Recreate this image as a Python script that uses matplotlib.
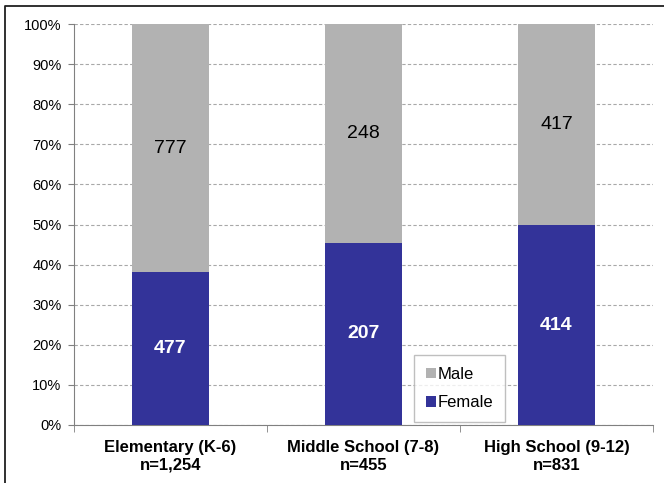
import numpy as np
import matplotlib.pyplot as plt
from matplotlib.lines import Line2D

plt.rcParams['font.family'] = ['Liberation Sans', 'DejaVu Sans']

# donnees
categories = ['Elementary (K-6)\nn=1,254', 'Middle School (7-8)\nn=455', 'High School (9-12)\nn=831']
female = np.array([477, 207, 414])
male = np.array([777, 248, 417])

total = female + male
female_pct = female / total * 100
male_pct = male / total * 100

col_female = '#333399'
col_male = '#B2B2B2'

fig = plt.figure(figsize=(6.64, 4.83), dpi=100)
ax = fig.add_axes([74 / 664, 1 - 425 / 483, 579 / 664, 401 / 483])

x = np.arange(len(categories))
ax.bar(x, female_pct, width=0.4, color=col_female, label='Female', zorder=3)
ax.bar(x, male_pct, width=0.4, bottom=female_pct, color=col_male, label='Male', zorder=3)

# etiquettes dans les barres
for i in range(len(x)):
    ax.text(x[i], female_pct[i] / 2, str(female[i]), ha='center', va='center',
            color='white', fontsize=14, fontweight='bold', zorder=4)
    ax.text(x[i], female_pct[i] + male_pct[i] / 2, str(male[i]), ha='center', va='center',
            color='black', fontsize=14, zorder=4)

ax.set_xlim(-0.5, 2.5)
ax.set_ylim(0, 100)
ax.set_yticks(np.arange(0, 101, 10))
ax.set_yticklabels([f'{v}%' for v in range(0, 101, 10)], fontsize=10.5)
ax.yaxis.grid(True, linestyle=(0, (3, 2)), color='#A8A8A8', linewidth=0.8, zorder=0)

ax.set_xticks(x)
ax.set_xticklabels(categories, fontsize=12, fontweight='bold', linespacing=1.2)
ax.tick_params(axis='x', length=0, pad=11)
ax.tick_params(axis='y', length=4, color='#808080', pad=5)
# petits traits entre les categories
ax.set_xticks([-0.5, 0.5, 1.5, 2.5], minor=True)
ax.tick_params(axis='x', which='minor', length=5, color='#808080')

for s in ['top', 'right']:
    ax.spines[s].set_visible(False)
for s in ['left', 'bottom']:
    ax.spines[s].set_color('#808080')

handles, labels = ax.get_legend_handles_labels()
leg = ax.legend(handles[::-1], labels[::-1], loc='lower left', bbox_to_anchor=(0.587, 0.008),
                fontsize=12, frameon=True, fancybox=False, edgecolor='#B0B0B0',
                handlelength=0.6, handleheight=0.6, handletextpad=0.15, labelspacing=0.8,
                borderpad=0.7, borderaxespad=0)
leg.get_frame().set_linewidth(1.0)

# cadre (seulement gauche et haut visibles, image rognee)
fig.lines.append(Line2D([5 / 664, 5 / 664, 1], [0, 1 - 6 / 483, 1 - 6 / 483],
                        transform=fig.transFigure, color='#202020', linewidth=1.3))

fig.savefig('out.png', dpi=100)
